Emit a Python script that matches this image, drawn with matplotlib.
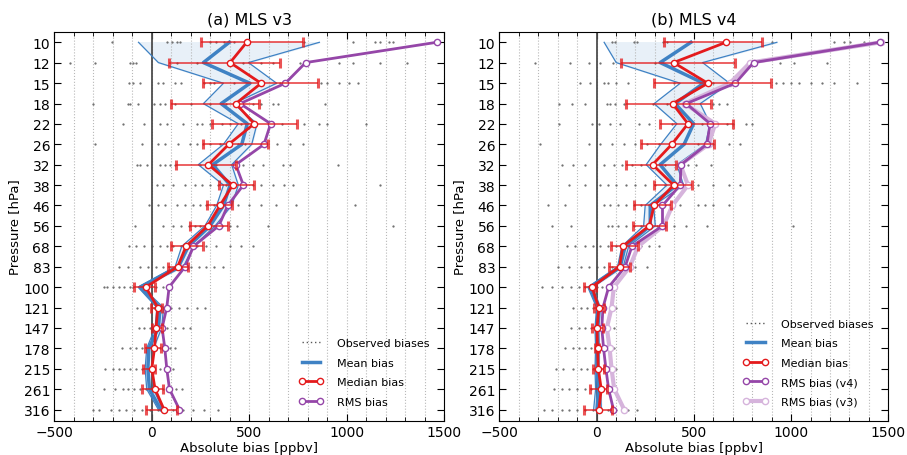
import matplotlib
matplotlib.use("Agg")
import matplotlib.pyplot as plt
from matplotlib.lines import Line2D
from matplotlib.ticker import MultipleLocator, FixedLocator, NullLocator
import numpy as np

# MLS pressure levels (hPa) and labels
pressure = [10.0, 12.1, 14.7, 17.8, 21.5, 26.1, 31.6, 38.3, 46.4, 56.2,
            68.1, 82.5, 100.0, 121.2, 146.8, 177.8, 215.4, 261.0, 316.2]
plabels = ['10', '12', '15', '18', '22', '26', '32', '38', '46', '56',
           '68', '83', '100', '121', '147', '178', '215', '261', '316']

# ---- panel (a) MLS v3 ----
mean_v3 = [398, 265, 504, 356, 490, 462, 313, 402, 368, 299, 188, 137, -60, 43, 34, -15, -20, -12, 46]
band_lo_v3 = [-68, 34, 368, 265, 444, 368, 239, 368, 333, 273, 154, 120, -70, 26, 17, -26, -34, -26, 34]
band_hi_v3 = [860, 496, 641, 420, 540, 513, 410, 444, 410, 325, 214, 162, -50, 60, 51, 9, 0, 9, 56]
median_v3 = [487, 402, 561, 431, 526, 395, 291, 415, 350, 287, 176, 133, -31, 31, 22, 14, 0, 17, 63]
med_lo_v3 = [251, 89, 262, 97, 311, 263, 125, 347, 285, 197, 99, 82, -89, -5, 3, -34, -43, -48, -31]
med_hi_v3 = [778, 658, 855, 552, 745, 594, 431, 526, 414, 390, 262, 188, 17, 55, 51, 48, 17, 56, 132]
rms_v3 = [1462, 790, 685, 453, 610, 576, 431, 470, 390, 344, 214, 171, 89, 77, 53, 67, 77, 91, 142]

obs_v3 = [
    [-205, 80, 105, 130, 145, 300, 330, 370, 420, 780, 1035, 1145, 1170, 1215, 1240],
    [-420, -290, -110, -95, -80, 130, 230, 470, 560, 620, 760, 960, 1035, 1170, 1310],
    [-115, -95, -60, 30, 60, 120, 150, 270, 300, 320, 420, 560, 660, 870, 900, 960, 1010, 1060],
    [-300, -120, -110, -70, 10, 40, 70, 120, 200, 300, 380, 520, 560, 620, 650, 890],
    [-150, -40, 40, 80, 160, 230, 260, 300, 360, 400, 460, 530, 600, 670, 780, 860, 900, 1100],
    [-290, -51, 34, 68, 137, 197, 231, 265, 299, 350, 440, 480, 560, 641, 709, 778],
    [-77, -60, -26, 43, 68, 94, 120, 250, 330, 470, 520, 573, 675, 709, 957],
    [26, 60, 110, 170, 220, 260, 300, 340, 380, 420, 470, 520, 560, 620, 680, 727, 1171],
    [-16, 30, 70, 130, 170, 210, 250, 280, 320, 360, 400, 440, 500, 560, 640, 738, 1042],
    [-84, 60, 110, 150, 190, 220, 250, 280, 320, 360, 400, 436, 598, 1239],
    [-118, -80, -40, 0, 40, 80, 110, 150, 190, 230, 280, 330, 400, 460, 521],
    [-169, -120, -60, -20, 20, 60, 90, 130, 160, 200, 240, 280, 320, 368],
    [-247, -230, -200, -170, -140, -110, -94, -60, -20, 20, 60],
    [-77, -50, -20, 10, 40, 70, 100, 140, 180, 230, 274],
    [-68, -40, -10, 20, 50, 80, 120, 160, 197],
    [-154, -110, -80, -50, -20, 10, 40, 70, 95, 120],
    [-239, -200, -170, -140, -110, -80, -50, -20, 10, 40, 70, 111],
    [-247, -188, -150, -120, -90, -60, -30, 0, 30, 60, 100, 125, 154],
    [-299, -270, -210, -170, -130, -90, -50, -10, 30, 70, 110, 160, 210, 270, 342],
]

# ---- panel (b) MLS v4 ----
mean_v4 = [485, 327, 550, 404, 499, 450, 327, 413, 276, 276, 147, 122, -33, 10, 2, 5, 2, 10, 2]
band_lo_v4 = [39, 101, 430, 296, 413, 330, 255, 362, 250, 242, 130, 108, -45, 0, -8, -5, -8, -5, -15]
band_hi_v4 = [927, 545, 684, 533, 584, 560, 413, 447, 293, 302, 165, 137, -20, 20, 12, 14, 12, 20, 25]
median_v4 = [665, 396, 572, 391, 470, 387, 288, 396, 296, 271, 135, 118, -24, 12, 2, 5, 9, 24, 12]
med_lo_v4 = [348, 125, 296, 149, 327, 230, 149, 293, 195, 185, 74, 65, -63, -12, -21, -10, -19, -33, -62]
med_hi_v4 = [850, 713, 896, 590, 704, 605, 410, 490, 384, 356, 211, 173, -2, 36, 31, 14, 36, 53, 79]
rms_v4 = [1455, 807, 713, 461, 584, 567, 434, 430, 339, 339, 182, 147, 62, 33, 27, 36, 48, 62, 87]

obs_v4 = [
    [79, 96, 190, 207, 344, 360, 900, 1219, 1270, 1304, 1373, 1458],
    [-315, -135, -41, 19, 87, 300, 420, 790, 944, 1013, 1184],
    [-84, -33, 40, 60, 100, 160, 400, 600, 920, 960, 1000, 1040, 1100, 1160, 1220, 1338],
    [-195, -127, -58, 53, 70, 95, 140, 290, 360, 600, 630, 670],
    [-195, -24, 10, 70, 120, 220, 270, 390, 460, 540, 600, 670, 700, 770, 800],
    [-290, -40, 20, 80, 140, 200, 260, 320, 380, 450, 520, 600, 680, 740],
    [-180, -120, -60, 40, 90, 130, 180, 230, 290, 350, 420, 470, 510, 590],
    [-140, -60, 20, 60, 100, 150, 200, 250, 300, 350, 400, 460, 520, 600, 680, 740],
    [-250, -160, 40, 70, 110, 150, 190, 230, 270, 310, 350, 380, 430, 520, 560, 600, 680],
    [-230, -130, 60, 80, 110, 150, 190, 230, 270, 310, 350, 400, 460, 570, 1010],
    [-150, -110, -60, -20, 20, 60, 100, 140, 180, 230, 270, 320],
    [-200, -140, -80, -40, 0, 40, 80, 120, 160, 200, 260],
    [-280, -230, -180, -130, -90, -60, -30, 0, 30],
    [-120, -80, -50, -20, 10, 40, 70, 100],
    [-130, -90, -60, -30, 0, 30, 60, 90],
    [-160, -120, -90, -60, -30, 0, 30, 60, 90],
    [-210, -170, -120, -80, -50, -20, 10, 40, 70, 100],
    [-220, -180, -140, -100, -60, -30, 0, 30, 60, 100],
    [-270, -230, -180, -140, -100, -60, -20, 20, 60, 100, 160, 210],
]

BLUE = '#3f82c4'
BAND = '#e8f0f8'
RED = '#e41a1c'
PURPLE = '#9546a8'
LPURPLE = '#d6b4dc'


def draw_panel(ax, obs, mean, lo, hi, med, mlo, mhi, rms, title, rms_old=None):
    # observed biases as small dots
    for p, vals in zip(pressure, obs):
        ax.plot(vals, [p] * len(vals), ls='none', marker='.', ms=1.2,
                color='0.4', zorder=2)
    ax.axvline(0, color='0.3', lw=1.3, zorder=2)
    ax.fill_betweenx(pressure, lo, hi, color=BAND, zorder=1)
    ax.plot(lo, pressure, color=BLUE, lw=0.9, zorder=3)
    ax.plot(hi, pressure, color=BLUE, lw=0.9, zorder=3)
    ax.plot(mean, pressure, color=BLUE, lw=2.5, zorder=3)
    if rms_old is not None:
        ax.plot(rms_old, pressure, color=LPURPLE, lw=3, marker='o', ms=4.5,
                mfc='white', mec=LPURPLE, mew=1, zorder=4)
    ax.plot(rms, pressure, color=PURPLE, lw=2, marker='o', ms=4.5,
            mfc='white', mec=PURPLE, mew=1, zorder=5)
    med = np.array(med)
    xerr = [med - np.array(mlo), np.array(mhi) - med]
    ax.errorbar(med, pressure, xerr=xerr, fmt='none', ecolor=RED, elinewidth=1.3,
                capsize=3.5, capthick=2.2, alpha=0.75, zorder=6)
    ax.plot(med, pressure, color=RED, lw=2, marker='o', ms=4.5,
            mfc='white', mec=RED, mew=1, zorder=7)

    ax.set_yscale('log')
    ax.set_ylim(316.2 * 10 ** (0.56 / 12), 10 * 10 ** (-0.52 / 12))
    ax.yaxis.set_major_locator(FixedLocator(pressure))
    ax.yaxis.set_minor_locator(NullLocator())
    ax.set_yticklabels(plabels)
    ax.set_xlim(-500, 1500)
    ax.xaxis.set_major_locator(MultipleLocator(500))
    ax.xaxis.set_minor_locator(MultipleLocator(100))
    ax.grid(axis='x', which='both', ls=':', color='0.72', lw=0.8)
    ax.tick_params(which='both', direction='in', top=True, right=True,
                   labelsize=10, pad=3)
    ax.tick_params(which='major', length=5)
    ax.tick_params(which='minor', length=3)
    ax.set_xlabel('Absolute bias [ppbv]', fontsize=9.5, labelpad=1)
    ax.set_ylabel('Pressure [hPa]', fontsize=9.5, labelpad=2)
    ax.set_title(title, fontsize=11.5)


fig = plt.figure(figsize=(9.07, 4.56), dpi=100)
ax1 = fig.add_axes([0.0599, 0.0746, 0.4297, 0.8537])
ax2 = fig.add_axes([0.5505, 0.0746, 0.4289, 0.8537])

draw_panel(ax1, obs_v3, mean_v3, band_lo_v3, band_hi_v3, median_v3,
           med_lo_v3, med_hi_v3, rms_v3, '(a) MLS v3')
draw_panel(ax2, obs_v4, mean_v4, band_lo_v4, band_hi_v4, median_v4,
           med_lo_v4, med_hi_v4, rms_v4, '(b) MLS v4', rms_old=rms_v3)

h_obs = Line2D([], [], color='0.35', ls=(0, (1, 2)), lw=1)
h_mean = Line2D([], [], color=BLUE, lw=2.5)
h_med = Line2D([], [], color=RED, lw=2, marker='o', ms=4.5, mfc='white')
h_rms = Line2D([], [], color=PURPLE, lw=2, marker='o', ms=4.5, mfc='white')
h_rms3 = Line2D([], [], color=LPURPLE, lw=3, marker='o', ms=4.5, mfc='white', mec=LPURPLE)

leg_kw = dict(loc='lower right', frameon=False, fontsize=8, numpoints=2,
              handlelength=2.3, handletextpad=1.2, labelspacing=0.85,
              borderaxespad=0.9)
ax1.legend([h_obs, h_mean, h_med, h_rms],
           ['Observed biases', 'Mean bias', 'Median bias', 'RMS bias'], **leg_kw)
ax2.legend([h_obs, h_mean, h_med, h_rms, h_rms3],
           ['Observed biases', 'Mean bias', 'Median bias', 'RMS bias (v4)', 'RMS bias (v3)'],
           **leg_kw)

fig.savefig('out.png', dpi=100)
